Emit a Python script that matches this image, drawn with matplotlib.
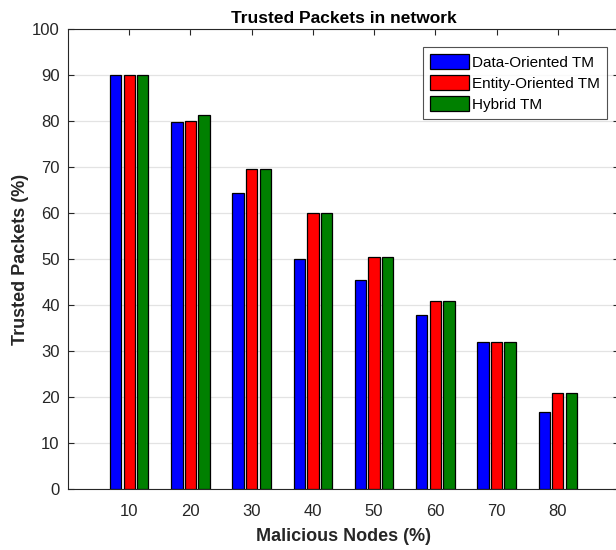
import numpy as np
import matplotlib
matplotlib.use("Agg")
import matplotlib.pyplot as plt

plt.rcParams['font.family'] = ['Liberation Sans', 'DejaVu Sans']

# Malicious node share and trusted packet share per trust model
malicious_nodes = [10, 20, 30, 40, 50, 60, 70, 80]
data_oriented = [90, 79.8, 64.3, 50, 45.5, 37.8, 32, 16.8]
entity_oriented = [90, 80, 69.6, 60, 50.4, 40.9, 32, 20.9]
hybrid = [90, 81.3, 69.6, 60, 50.4, 40.9, 32, 20.9]

series = [
    ("Data-Oriented TM", data_oriented, "#0000ff"),
    ("Entity-Oriented TM", entity_oriented, "#ff0000"),
    ("Hybrid TM", hybrid, "#008000"),
]

W, H = 616, 550
fig = plt.figure(figsize=(W / 100, H / 100), dpi=100)
left, right, top, bottom = 68, 619, 29, 489
ax = fig.add_axes([left / W, (H - bottom) / H, (right - left) / W, (bottom - top) / H])

x = np.arange(1, len(malicious_nodes) + 1)
step = 0.222
width = 0.185
for i, (name, vals, color) in enumerate(series):
    ax.bar(x + (i - 1) * step, vals, width, color=color, edgecolor="black",
           linewidth=0.9, label=name, zorder=3)

ax.set_xlim(0, 9)
ax.set_ylim(0, 100)
ax.set_xticks(x)
ax.set_xticklabels([str(v) for v in malicious_nodes])
ax.set_yticks(np.arange(0, 101, 10))
ax.yaxis.grid(True, color="#e3e3e3", linewidth=0.9, zorder=0)
ax.set_axisbelow(True)

ax.tick_params(direction="in", length=4, width=0.8, colors="#262626",
               labelsize=12, top=True, right=True)
ax.tick_params(axis="x", pad=11)
ax.tick_params(axis="y", pad=6)
for s in ax.spines.values():
    s.set_color("#262626")
    s.set_linewidth(0.8)

ax.set_title("Trusted Packets in network", fontsize=12.5, fontweight="bold",
             color="black", pad=4)
ax.set_xlabel("Malicious Nodes (%)", fontsize=13, fontweight="bold",
              color="#262626", labelpad=6)
ax.set_ylabel("Trusted Packets (%)", fontsize=13, fontweight="bold",
              color="#262626", labelpad=2)

leg = ax.legend(loc="upper left", bbox_to_anchor=((423 - left) / (right - left), 1 - (47 - top) / (bottom - top)),
                fontsize=11, frameon=True, fancybox=False, edgecolor="#262626",
                handlelength=2.55, handleheight=1.15, handletextpad=0.2,
                labelspacing=0.35, borderpad=0.45, borderaxespad=0)
leg.get_frame().set_linewidth(0.8)

fig.savefig("out.png", dpi=100)
